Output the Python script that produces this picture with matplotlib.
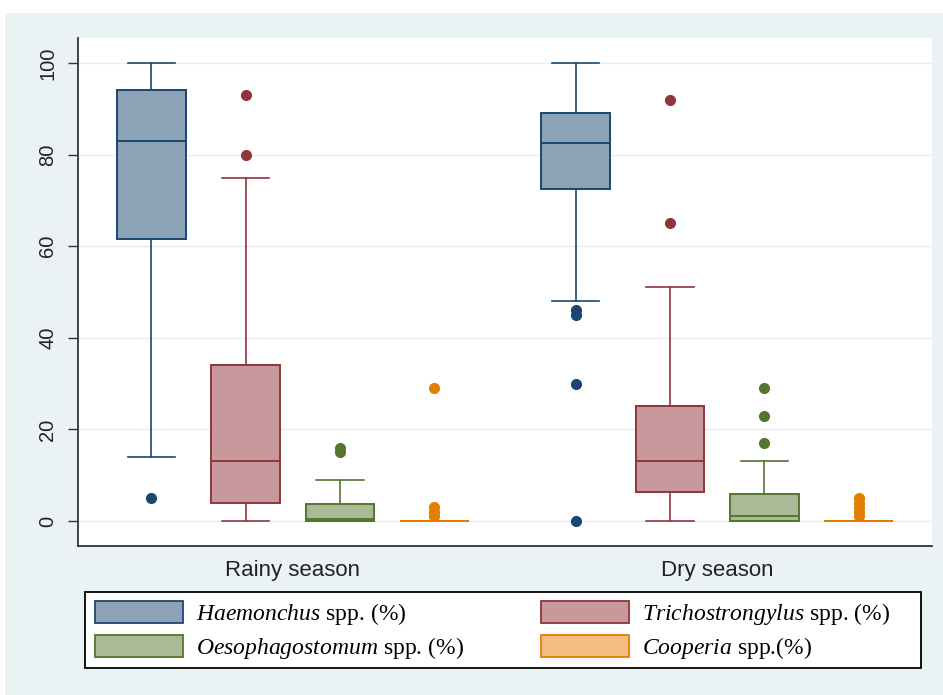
import matplotlib.pyplot as plt
from matplotlib.patches import Patch, Rectangle

plt.rcParams['mathtext.fontset'] = 'custom'
plt.rcParams['mathtext.rm'] = 'Liberation Serif'
plt.rcParams['mathtext.it'] = 'Liberation Serif:italic'

seasons = ["Rainy season", "Dry season"]
species = ["Haemonchus", "Trichostrongylus", "Oesophagostomum", "Cooperia"]
legend_labels = [r"$\mathit{Haemonchus}$ spp. (%)",
                 r"$\mathit{Trichostrongylus}$ spp. (%)",
                 r"$\mathit{Oesophagostomum}$ spp. (%)",
                 r"$\mathit{Cooperia}$ spp.(%)"]

# box statistics, one value per species
rainy_whislo = [14, 0, 0, 0]
rainy_q1 = [61.5, 4, 0, 0]
rainy_med = [83, 13, 0.5, 0]
rainy_q3 = [94, 34, 3.7, 0]
rainy_whishi = [100, 75, 9, 0]
rainy_fliers = [[5], [80, 93], [15, 16], [1, 2, 3, 29]]

dry_whislo = [48, 0, 0, 0]
dry_q1 = [72.5, 6.3, 0, 0]
dry_med = [82.5, 13, 1, 0]
dry_q3 = [89, 25, 6, 0]
dry_whishi = [100, 51, 13, 0]
dry_fliers = [[0, 30, 45, 46], [65, 92], [17, 23, 29], [1, 2, 3, 4, 5]]

edge_colors = ["#1A476F", "#90353B", "#55752F", "#E37E00"]
fill_colors = ["#8CA3B7", "#C7999D", "#AABA97", "#F1BE80"]

fig = plt.figure(figsize=(9.43, 6.95), dpi=100, facecolor="white")
fig.patches.append(Rectangle((5 / 943, 0), 1, 682 / 695, transform=fig.transFigure,
                             facecolor="#EAF2F3", edgecolor="none", zorder=-10))
ax = fig.add_axes([78 / 943, 149 / 695, 854 / 943, 508 / 695])
ax.set_facecolor("white")

group_start = [1.0, 5.5]
season_stats = [
    (rainy_whislo, rainy_q1, rainy_med, rainy_q3, rainy_whishi, rainy_fliers),
    (dry_whislo, dry_q1, dry_med, dry_q3, dry_whishi, dry_fliers),
]

for g, (wlo, q1, med, q3, whi, fl) in enumerate(season_stats):
    for i in range(len(species)):
        stats = [dict(whislo=wlo[i], q1=q1[i], med=med[i], q3=q3[i],
                      whishi=whi[i], fliers=fl[i])]
        ec = edge_colors[i]
        ax.bxp(stats, positions=[group_start[g] + i], widths=0.73, capwidths=0.5,
               patch_artist=True, manage_ticks=False,
               boxprops=dict(facecolor=fill_colors[i], edgecolor=ec, linewidth=1.4),
               medianprops=dict(color=ec, linewidth=1.4),
               whiskerprops=dict(color=ec, linewidth=1.2),
               capprops=dict(color=ec, linewidth=1.2),
               flierprops=dict(marker="o", markerfacecolor=ec, markeredgecolor=ec,
                               markersize=7, linestyle="none"))

ax.set_xlim(0.223, 9.277)
ax.set_ylim(-5.46, 105.46)
ax.set_yticks([0, 20, 40, 60, 80, 100])
ax.set_xticks([group_start[0] + 1.5, group_start[1] + 1.5])
ax.set_xticklabels(seasons, fontsize=16, family="Liberation Sans", color="#222222")
ax.tick_params(axis="x", length=0, pad=10)
ax.tick_params(axis="y", length=7, width=1, color="#333333", pad=8, labelsize=14.5)
for lab in ax.get_yticklabels():
    lab.set_rotation(90)
    lab.set_va("center")
    lab.set_family("Liberation Sans")
    lab.set_color("#222222")
ax.grid(axis="y", color="#E6EEF1", linewidth=1)
ax.set_axisbelow(True)
for side in ["top", "right"]:
    ax.spines[side].set_visible(False)
for side in ["left", "bottom"]:
    ax.spines[side].set_color("#333333")
    ax.spines[side].set_linewidth(1.3)

# legend frame drawn on its own, entries placed inside it
fig.patches.append(Rectangle((85 / 943, 27 / 695), 836 / 943, 76 / 695,
                             transform=fig.transFigure, facecolor="white",
                             edgecolor="black", linewidth=1.3, zorder=-5))
order = [0, 2, 1, 3]
handles = [Patch(facecolor=fill_colors[i], edgecolor=edge_colors[i], linewidth=1.3) for i in order]
leg = fig.legend(handles, [legend_labels[i] for i in order], ncol=2,
                 loc="upper left", bbox_to_anchor=(95 / 943, 1 - 601 / 695),
                 prop=dict(family="Liberation Serif", size=17),
                 handlelength=3.73, handleheight=1.06, handletextpad=0.55,
                 labelspacing=0.32, columnspacing=3.25, borderaxespad=0,
                 borderpad=0, frameon=False)

fig.savefig("out.png", dpi=100, facecolor=fig.get_facecolor())
